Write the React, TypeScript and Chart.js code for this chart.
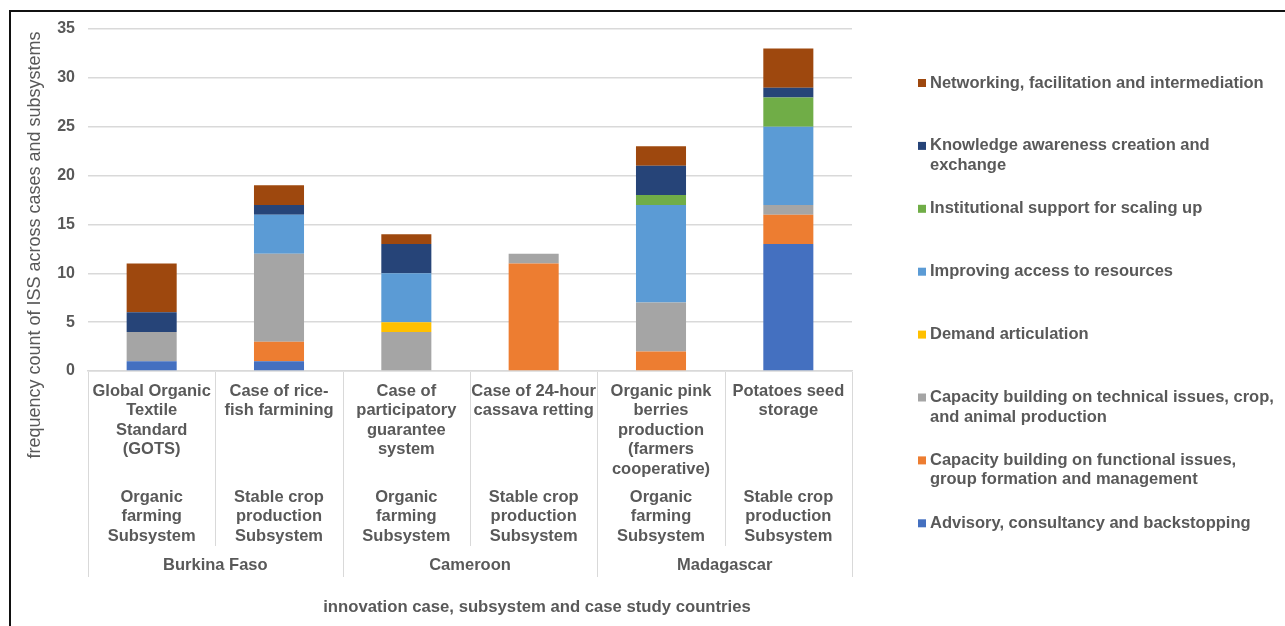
import React, { useEffect, useRef } from "react";
import { Chart, registerables } from "chart.js";

Chart.register(...registerables);

const cases: string[][] = [
  ["Global Organic", "Textile", "Standard", "(GOTS)"],
  ["Case of rice-", "fish farmining"],
  ["Case of", "participatory", "guarantee", "system"],
  ["Case of 24-hour", "cassava retting"],
  ["Organic pink", "berries", "production", "(farmers", "cooperative)"],
  ["Potatoes seed", "storage"],
];
const subsystems: string[][] = [
  ["Organic", "farming", "Subsystem"],
  ["Stable crop", "production", "Subsystem"],
  ["Organic", "farming", "Subsystem"],
  ["Stable crop", "production", "Subsystem"],
  ["Organic", "farming", "Subsystem"],
  ["Stable crop", "production", "Subsystem"],
];
const countries = ["Burkina Faso", "Cameroon", "Madagascar"];
const countrySpan = [2, 2, 2];

const advisory = [1, 1, 0, 0, 0, 13];
const functionalCap = [0, 2, 0, 11, 2, 3];
const technicalCap = [3, 9, 4, 1, 5, 1];
const demand = [0, 0, 1, 0, 0, 0];
const resources = [0, 4, 5, 0, 10, 8];
const institutional = [0, 0, 0, 0, 1, 3];
const knowledge = [2, 1, 3, 0, 3, 1];
const networking = [5, 2, 1, 0, 2, 4];

const seriesLines: string[][] = [
  ["Advisory, consultancy and backstopping"],
  ["Capacity building on functional issues,", "group formation and management"],
  ["Capacity building on technical issues, crop,", "and animal production"],
  ["Demand articulation"],
  ["Improving access to resources"],
  ["Institutional support for scaling up"],
  ["Knowledge awareness creation and", "exchange"],
  ["Networking, facilitation and intermediation"],
];
const seriesValues = [advisory, functionalCap, technicalCap, demand, resources, institutional, knowledge, networking];
const seriesColors = ["#4470C0", "#ED7D31", "#A5A5A5", "#FFC000", "#5B9BD5", "#70AD47", "#264478", "#9E480E"];

const yTitle = "frequency count of ISS across cases and subsystems";
const xTitle = "innovation case, subsystem and case study countries";

const FONT = "'Liberation Sans', Arial, sans-serif";
const TEXT = "#595959";

const customPlugin = {
  id: "custom",
  afterDraw(chart: any) {
    const ctx = chart.ctx as CanvasRenderingContext2D;
    const x = chart.scales.x;
    const area = chart.chartArea;
    const n = cases.length;
    const catW = (area.right - area.left) / n;
    ctx.save();
    // frame
    ctx.strokeStyle = "#111";
    ctx.lineWidth = 2;
    ctx.beginPath();
    ctx.moveTo(10, 626);
    ctx.lineTo(10, 11);
    ctx.lineTo(1285, 11);
    ctx.stroke();

    // category separators
    ctx.strokeStyle = "#d9d9d9";
    ctx.lineWidth = 1;
    const yTop = area.bottom + 1;
    const boundaries: number[] = [0];
    let acc = 0;
    countrySpan.forEach((s) => { acc += s; boundaries.push(acc); });
    for (let i = 0; i <= n; i++) {
      const bx = Math.round(area.left + i * catW) + 0.5;
      const isCountry = boundaries.indexOf(i) >= 0;
      ctx.beginPath();
      ctx.moveTo(bx, yTop);
      ctx.lineTo(bx, isCountry ? 577 : 546);
      ctx.stroke();
    }

    ctx.fillStyle = TEXT;
    ctx.textAlign = "center";
    ctx.textBaseline = "middle";
    ctx.font = `bold 16.5px ${FONT}`;
    for (let i = 0; i < n; i++) {
      const cx = x.getPixelForValue(i);
      cases[i].forEach((ln, j) => ctx.fillText(ln, cx, 391 + j * 19.5));
      subsystems[i].forEach((ln, j) => ctx.fillText(ln, cx, 497 + j * 19.5));
    }
    let start = 0;
    countries.forEach((c, k) => {
      const l = area.left + start * catW;
      const r = area.left + (start + countrySpan[k]) * catW;
      ctx.fillText(c, (l + r) / 2, 565);
      start += countrySpan[k];
    });

    // axis titles
    ctx.font = `bold 16.7px ${FONT}`;
    ctx.fillText(xTitle, 537, 607);
    ctx.save();
    ctx.translate(35, 245);
    ctx.rotate(-Math.PI / 2);
    ctx.font = `18px ${FONT}`;
    ctx.fillText(yTitle, 0, 0);
    ctx.restore();

    // legend
    ctx.textAlign = "left";
    ctx.font = `bold 16.5px ${FONT}`;
    const m = seriesLines.length;
    for (let k = 0; k < m; k++) {
      const idx = m - 1 - k;
      const ly = 83 + k * 62.9;
      ctx.fillStyle = seriesColors[idx];
      ctx.fillRect(918, ly - 4, 8, 8);
      ctx.fillStyle = TEXT;
      seriesLines[idx].forEach((ln, j) => ctx.fillText(ln, 930, ly + j * 19.5));
    }
    ctx.restore();
  },
};

export default function App() {
  const ref = useRef<HTMLCanvasElement | null>(null);
  useEffect(() => {
    document.body.style.margin = "0";
    const canvas = ref.current;
    if (!canvas) return;
    const chart = new Chart(canvas, {
      type: "bar",
      data: {
        labels: cases.map((c) => c.join(" ")),
        datasets: seriesLines.map((lines, i) => ({
          label: lines.join(" "),
          data: seriesValues[i],
          backgroundColor: seriesColors[i],
          borderWidth: 0,
          categoryPercentage: 1,
          barPercentage: 0.393,
        })),
      },
      options: {
        animation: false,
        responsive: false,
        devicePixelRatio: 1,
        layout: { padding: { left: 0, right: 433, top: 29, bottom: 255 } },
        plugins: { legend: { display: false }, tooltip: { enabled: false } },
        scales: {
          x: {
            stacked: true,
            ticks: { display: false },
            grid: { display: false },
            border: { display: true, color: "#d9d9d9", width: 1.5 },
            afterFit: (s: any) => { s.height = 0; },
          },
          y: {
            stacked: true,
            min: 0,
            max: 35,
            ticks: {
              stepSize: 5,
              padding: 13,
              color: TEXT,
              font: { family: FONT, size: 16, weight: "bold" },
            },
            grid: { color: "#d9d9d9", lineWidth: 1.5, drawTicks: false },
            border: { display: false },
            afterFit: (s: any) => { s.width = 88; },
          },
        },
      },
      plugins: [customPlugin],
    } as any);
    return () => chart.destroy();
  }, []);
  return (
    <div style={{ width: 1285, height: 626, position: "relative", background: "#fff" }}>
      <canvas ref={ref} width={1285} height={626} style={{ display: "block" }} />
    </div>
  );
}
